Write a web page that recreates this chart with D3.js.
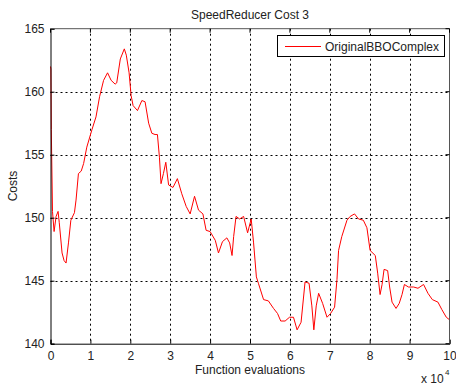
<!DOCTYPE html>
<html><head><meta charset="utf-8">
<script src="https://cdn.jsdelivr.net/npm/d3@7"></script>
<style>body{margin:0;background:#fff}svg{display:block}text{font-family:"Liberation Sans",Arial,sans-serif;fill:#222}</style>
</head><body><svg id="c" width="456" height="387"></svg>
<script>
const title = "SpeedReducer Cost 3";
const xLabel = "Function evaluations";
const yLabel = "Costs";
const seriesName = "OriginalBBOComplex";
const xTicks = [0,1,2,3,4,5,6,7,8,9,10];
const yTicks = [140,145,150,155,160,165];
const xs = [0,0.01,0.02,0.05,0.09,0.14,0.19,0.22,0.29,0.34,0.39,0.45,0.51,0.60,0.64,0.70,0.77,0.83,0.91,1.04,1.14,1.23,1.33,1.43,1.52,1.62,1.66,1.75,1.85,1.90,1.97,2.02,2.07,2.18,2.29,2.37,2.46,2.54,2.62,2.68,2.73,2.77,2.83,2.89,2.96,3.07,3.18,3.29,3.40,3.50,3.61,3.71,3.82,3.90,4.00,4.13,4.21,4.31,4.42,4.49,4.55,4.59,4.65,4.74,4.84,4.94,5.03,5.09,5.16,5.21,5.34,5.46,5.59,5.69,5.77,5.88,5.99,6.09,6.18,6.28,6.38,6.48,6.55,6.60,6.66,6.72,6.82,6.93,7.02,7.12,7.18,7.22,7.30,7.43,7.51,7.62,7.72,7.84,7.93,8.01,8.14,8.20,8.26,8.31,8.36,8.45,8.50,8.56,8.66,8.74,8.81,8.87,8.97,9.10,9.21,9.35,9.46,9.57,9.71,9.81,9.92,10.0];
const ys = [162.0,161.8,157.0,150.5,148.9,150.1,150.5,149.6,147.2,146.6,146.4,148.0,149.8,150.4,151.4,153.5,153.7,154.3,155.6,157.0,158.0,159.6,160.9,161.5,160.9,160.6,160.7,162.6,163.4,162.9,161.5,159.7,158.9,158.5,159.3,159.2,157.5,156.7,156.6,156.6,154.8,152.7,153.5,154.4,152.6,152.4,153.1,151.9,150.9,150.3,151.7,150.6,150.3,149.0,148.9,148.2,147.2,148.1,148.4,148.0,147.0,148.5,150.1,149.9,150.1,148.8,149.9,148.0,145.3,144.8,143.5,143.4,142.8,142.4,141.8,141.8,142.1,142.1,141.1,141.7,144.9,144.8,143.0,141.1,143.0,144.0,143.2,142.1,142.4,142.9,145.1,147.4,148.5,149.8,150.1,150.3,149.9,149.8,149.2,147.4,147.0,145.6,143.9,144.7,145.9,145.8,144.5,143.3,142.8,143.2,143.9,144.7,144.5,144.5,144.4,144.7,144.0,143.5,143.3,142.7,142.1,141.9];

const svg = d3.select("#c");
const L = 50.5, R = 449.5, T = 28.7, B = 343.7;
const x = d3.scaleLinear().domain([0,10]).range([L,R]);
const y = d3.scaleLinear().domain([140,165]).range([B,T]);

svg.append("rect").attr("x",L).attr("y",T).attr("width",R-L).attr("height",B-T).attr("fill","#fff");

// grid
const g = svg.append("g");
g.selectAll(".gx").data(xTicks.slice(1,-1)).join("line")
  .attr("x1",d=>Math.round(x(d))+0.5).attr("x2",d=>Math.round(x(d))+0.5).attr("y1",T).attr("y2",B)
  .attr("stroke","#000").attr("stroke-dasharray","2,3").attr("stroke-width",1);
g.selectAll(".gy").data(yTicks.slice(1,-1)).join("line")
  .attr("y1",d=>Math.round(y(d))+0.5).attr("y2",d=>Math.round(y(d))+0.5).attr("x1",L).attr("x2",R)
  .attr("stroke","#000").attr("stroke-dasharray","2,3").attr("stroke-width",1);

// data line
svg.append("path").datum(xs.map((v,i)=>[v,ys[i]]))
  .attr("d", d3.line().x(d=>x(d[0])).y(d=>y(d[1])))
  .attr("fill","none").attr("stroke","#ff0000").attr("stroke-width",1);

// axes
const ax = svg.append("g").attr("transform",`translate(0,${B})`)
  .call(d3.axisBottom(x).tickValues(xTicks).tickFormat(d3.format("d")).tickSize(-4).tickPadding(8));
const ay = svg.append("g").attr("transform",`translate(${L},0)`)
  .call(d3.axisLeft(y).tickValues(yTicks).tickFormat(d3.format("d")).tickSize(-4).tickPadding(6));
[ax,ay].forEach(a=>{
  a.select(".domain").attr("stroke","#000");
  a.selectAll(".tick line").attr("stroke","#000");
  a.selectAll("text").style("font-size","12px").attr("fill","#222").style("font-family","'Liberation Sans',Arial,sans-serif");
});
// top & right box
svg.append("line").attr("x1",L).attr("x2",R).attr("y1",T).attr("y2",T).attr("stroke","#555");
svg.append("line").attr("x1",R).attr("x2",R).attr("y1",T).attr("y2",B).attr("stroke","#555");
svg.append("g").selectAll("line").data(xTicks).join("line")
  .attr("x1",d=>x(d)).attr("x2",d=>x(d)).attr("y1",T).attr("y2",T+4).attr("stroke","#000");
svg.append("g").selectAll("line").data(yTicks).join("line")
  .attr("y1",d=>y(d)).attr("y2",d=>y(d)).attr("x1",R).attr("x2",R-4).attr("stroke","#000");

// labels
svg.append("text").attr("x",(L+R)/2).attr("y",19).attr("text-anchor","middle").style("font-size","12px").text(title);
svg.append("text").attr("x",(L+R)/2).attr("y",374).attr("text-anchor","middle").style("font-size","12px").text(xLabel);
svg.append("text").attr("transform","translate(17,186) rotate(-90)").attr("text-anchor","middle").style("font-size","12px").text(yLabel);
const ex = svg.append("text").attr("x",421).attr("y",383).style("font-size","12px").text("x 10");
svg.append("text").attr("x",445).attr("y",375).style("font-size","8px").text("4");

// legend
const lg = svg.append("g");
lg.append("rect").attr("x",277.5).attr("y",35.5).attr("width",167).attr("height",21).attr("fill","#fff").attr("stroke","#000");
lg.append("line").attr("x1",285).attr("x2",321).attr("y1",46.5).attr("y2",46.5).attr("stroke","#ff0000");
lg.append("text").attr("x",325).attr("y",50.5).style("font-size","12px").text(seriesName);
</script></body></html>
